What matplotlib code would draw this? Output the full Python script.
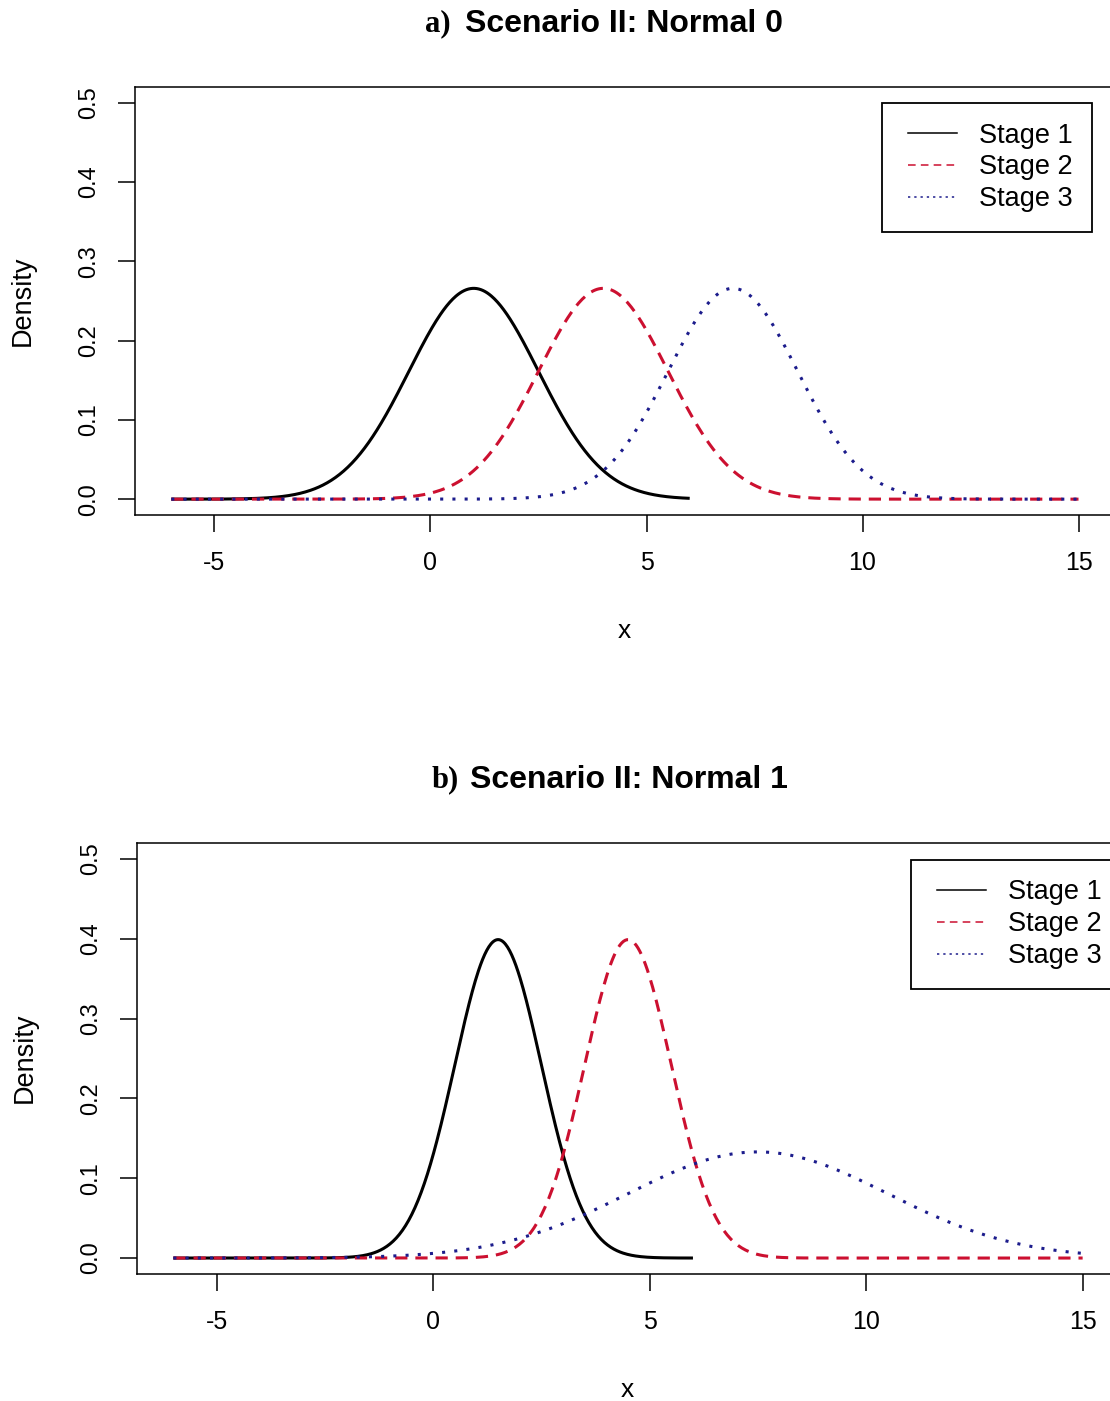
import numpy as np
import matplotlib
matplotlib.use('Agg')
import matplotlib.pyplot as plt
from matplotlib.lines import Line2D
from matplotlib.legend_handler import HandlerLine2D
from matplotlib import font_manager as fm

# ---------------- data ----------------
panel_tags = ['a)', 'b)']
panel_titles = ['Scenario II: Normal 0', 'Scenario II: Normal 1']
stage_labels = ['Stage 1', 'Stage 2', 'Stage 3']
# normal density parameters
means_a = [1.0, 4.0, 7.0]
sds_a = [1.5, 1.5, 1.5]
means_b = [1.5, 4.5, 7.5]
sds_b = [1.0, 1.0, 3.0]
x_from = [-6.0, -6.0, -6.0]
x_to = [6.0, 15.0, 15.0]
xticks = [-5, 0, 5, 10, 15]
xtick_labels = ['-5', '0', '5', '10', '15']
yticks = [0.0, 0.1, 0.2, 0.3, 0.4, 0.5]
ytick_labels = ['0.0', '0.1', '0.2', '0.3', '0.4', '0.5']

# ---------------- style ----------------
plt.rcParams['font.family'] = ['Liberation Sans', 'DejaVu Sans']
plt.rcParams['axes.unicode_minus'] = False
names = {f.name for f in fm.fontManager.ttflist}
narrow = 'Liberation Sans Narrow' if 'Liberation Sans Narrow' in names else 'Liberation Sans'

colors = ['black', '#cc1030', '#1c1c8c']
curve_styles = ['-', (0, (4.0, 2.6)), (0, (1.0, 3.0))]
legend_styles = ['-', (0, (5.0, 3.4)), (0, (1.5, 2.6))]

fig = plt.figure(figsize=(11.10, 14.01), dpi=100)
W, H = 1110.0, 1401.0

ax_rects = [
    [135 / W, 1 - 515 / H, 979.8 / W, 428 / H],
    [137 / W, 1 - 1274 / H, 982.0 / W, 431 / H],
]
params = [(means_a, sds_a), (means_b, sds_b)]
legend_anchor = [(0.7624, 0.9626), (0.788, 0.9606)]
tag_pos = [(425, 24), (432, 780)]
title_pos = [(465, 24), (470, 780)]


class InsetLine(HandlerLine2D):
    def create_artists(self, legend, orig_handle, xdescent, ydescent,
                       width, height, fontsize, trans):
        inset = 0.25 * fontsize
        return super().create_artists(legend, orig_handle, xdescent - inset,
                                      ydescent, width - inset, height,
                                      fontsize, trans)


def npdf(x, m, s):
    return np.exp(-0.5 * ((x - m) / s) ** 2) / (s * np.sqrt(2 * np.pi))


for k in range(2):
    ax = fig.add_axes(ax_rects[k])
    means, sds = params[k]
    for i in range(3):
        xs = np.linspace(x_from[i], x_to[i], 500)
        ax.plot(xs, npdf(xs, means[i], sds[i]), color=colors[i],
                linestyle=curve_styles[i], linewidth=2.2,
                solid_capstyle='butt', dash_capstyle='butt')
    ax.set_xlim(-6.84, 15.84)
    ax.set_ylim(-0.02, 0.52)
    ax.set_xticks(xticks)
    ax.set_xticklabels(xtick_labels, fontsize=18, family=[narrow, 'DejaVu Sans'])
    ax.set_yticks(yticks)
    ax.set_yticklabels(ytick_labels, fontsize=17, rotation=90,
                       va='center', ha='right')
    ax.tick_params(axis='both', direction='out', length=12, width=1.1,
                   color='black')
    ax.tick_params(axis='x', pad=14)
    ax.tick_params(axis='y', pad=13)
    for sp in ax.spines.values():
        sp.set_linewidth(1.1)
        sp.set_color('black')
    ax.set_xlabel('x', fontsize=19, family=[narrow, 'DejaVu Sans'])
    ax.xaxis.set_label_coords(0.499, -0.242)
    ax.set_ylabel('Density', fontsize=19.5)
    ax.yaxis.set_label_coords(-0.101, 0.501)

    handles = [Line2D([], [], color=colors[i], linestyle=legend_styles[i],
                      linewidth=1.1) for i in range(3)]
    leg = ax.legend(handles, stage_labels, loc='upper left',
                    bbox_to_anchor=legend_anchor[k], borderaxespad=0,
                    fontsize=19.5, frameon=True, fancybox=False, framealpha=1,
                    edgecolor='black', borderpad=0.72, labelspacing=0.22,
                    handlelength=2.05, handletextpad=0.8,
                    handler_map={Line2D: InsetLine()})
    leg.get_frame().set_linewidth(1.3)

    tx, ty = tag_pos[k]
    fig.text(tx / W, 1 - ty / H, panel_tags[k], fontsize=22, fontweight='bold',
             family=['Liberation Serif', 'DejaVu Serif'], ha='left', va='center')
    mx, my = title_pos[k]
    fig.text(mx / W, 1 - my / H, panel_titles[k], fontsize=23,
             fontweight='bold', ha='left', va='center')

fig.savefig('out.png', dpi=100)
